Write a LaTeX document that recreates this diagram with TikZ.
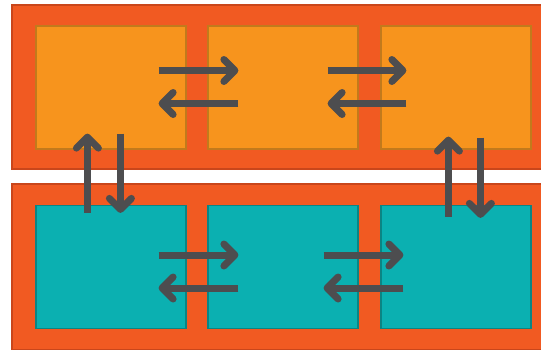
\documentclass[tikz,border=0pt]{standalone}
\usepackage{tikz}
\usetikzlibrary{arrows.meta}
\definecolor{myred}{HTML}{F15A22}
\definecolor{myredline}{HTML}{C9461B}
\definecolor{myorange}{HTML}{F7941D}
\definecolor{myorangeline}{HTML}{C27A1C}
\definecolor{myteal}{HTML}{0BB0B1}
\definecolor{mytealline}{HTML}{0A8584}
\definecolor{mygray}{HTML}{4D4D4F}
\tikzset{
	outerbox/.style={
			rectangle,
			draw=myredline,
			fill=myred,
			line width=1.2pt,
			inner sep=0pt
		},
	cellbox/.style={
			rectangle,
			line width=1.2pt,
			minimum width=150pt,
			minimum height=123pt,
			inner sep=0pt
		},
	upperbox/.style={
			cellbox,
			draw=myorangeline,
			fill=myorange
		},
	lowerbox/.style={
			cellbox,
			draw=mytealline,
			fill=myteal
		},
	flow/.style={
			draw=mygray,
			line width=7pt,
			-{Straight Barb[length=11pt, width=22pt, round]}
		}
}

\begin{document}
\begin{tikzpicture}[x=1pt, y=-1pt]
				\useasboundingbox (0, 0) rectangle (541, 349);

				\node[outerbox, minimum width=532pt, minimum height=164pt] (top) at (278, 87) {};
				\node[outerbox, minimum width=532pt, minimum height=166pt] (bottom) at (278, 267) {};

				\node[upperbox] (ta) at (111, 87.5) {};
				\node[upperbox] (tb) at (283, 87.5) {};
				\node[upperbox] (tc) at (456, 87.5) {};

				\node[lowerbox] (ba) at (111, 267) {};
				\node[lowerbox] (bb) at (283, 267) {};
				\node[lowerbox] (bc) at (456, 267) {};

				% top row
				\draw[flow] ([xshift=-28pt, yshift=17pt]ta.east) -- ([xshift=31pt, yshift=17pt]tb.west);
				\draw[flow] ([xshift=31pt, yshift=-16pt]tb.west) -- ([xshift=-28pt, yshift=-16pt]ta.east);
				\draw[flow] ([xshift=-31pt, yshift=17pt]tb.east) -- ([xshift=26pt, yshift=17pt]tc.west);
				\draw[flow] ([xshift=26pt, yshift=-16pt]tc.west) -- ([xshift=-31pt, yshift=-16pt]tb.east);

				% bottom row
				\draw[flow] ([xshift=-28pt, yshift=12pt]ba.east) -- ([xshift=31pt, yshift=12pt]bb.west);
				\draw[flow] ([xshift=31pt, yshift=-21pt]bb.west) -- ([xshift=-28pt, yshift=-21pt]ba.east);
				\draw[flow] ([xshift=-35pt, yshift=12pt]bb.east) -- ([xshift=23pt, yshift=12pt]bc.west);
				\draw[flow] ([xshift=23pt, yshift=-21pt]bc.west) -- ([xshift=-35pt, yshift=-21pt]bb.east);

				% between rows
				\draw[flow] ([xshift=52pt, yshift=-8pt]ba.north west) -- ([xshift=52pt, yshift=16pt]ta.south west);
				\draw[flow] ([xshift=85pt, yshift=16pt]ta.south west) -- ([xshift=85pt, yshift=-8pt]ba.north west);
				\draw[flow] ([xshift=68pt, yshift=-12pt]bc.north west) -- ([xshift=68pt, yshift=13pt]tc.south west);
				\draw[flow] ([xshift=100pt, yshift=12pt]tc.south west) -- ([xshift=100pt, yshift=-13pt]bc.north west);
\end{tikzpicture}
\end{document}
